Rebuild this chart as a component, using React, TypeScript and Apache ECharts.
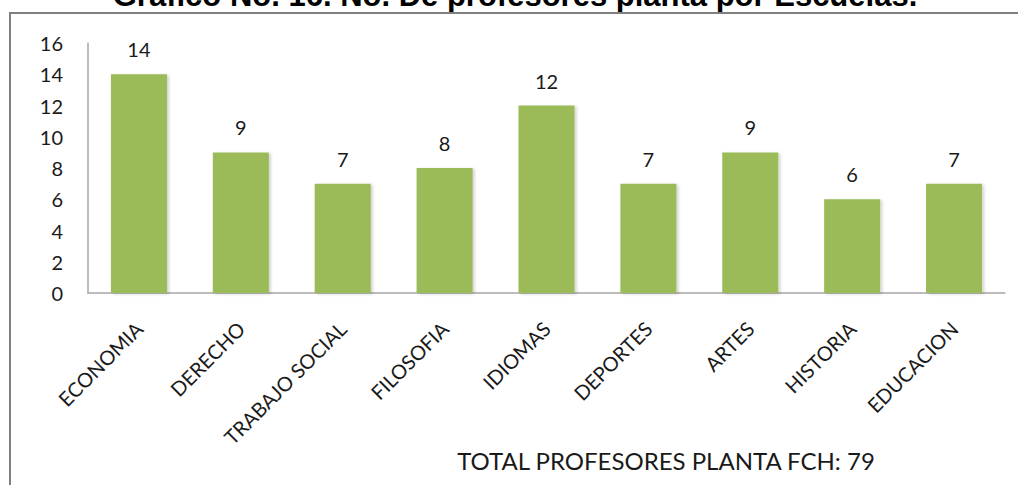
import React, { useEffect, useRef } from "react";
import * as echarts from "echarts";

const categories = ["ECONOMIA", "DERECHO", "TRABAJO SOCIAL", "FILOSOFIA", "IDIOMAS", "DEPORTES", "ARTES", "HISTORIA", "EDUCACION"];
const profesores = [14, 9, 7, 8, 12, 7, 9, 6, 7];
const titleText = "Grafico No. 16. No. De profesores planta por Escuelas.";
const totalText = "TOTAL PROFESORES PLANTA FCH: 79";

const FONT = "Lato, 'Open Sans', sans-serif";

export default function App() {
  const ref = useRef<HTMLDivElement>(null);
  useEffect(() => {
    if (!ref.current) return;
    const chart = echarts.init(ref.current, undefined, { renderer: "svg" });
    chart.setOption({
      animation: false,
      backgroundColor: "#ffffff",
      grid: { left: 88, right: 13, top: 43, bottom: 192, containLabel: false },
      xAxis: {
        type: "category",
        data: categories,
        axisLine: { show: true, lineStyle: { color: "#a6a6a6", width: 1.5 } },
        axisTick: { show: false },
        axisLabel: { rotate: 45, fontSize: 20, color: "#1a1a1a", fontFamily: FONT, margin: 32, interval: 0 },
      },
      yAxis: {
        type: "value",
        min: 0,
        max: 16,
        interval: 2,
        axisLine: { show: true, lineStyle: { color: "#a6a6a6", width: 1.5 } },
        axisTick: { show: false },
        splitLine: { show: false },
        axisLabel: { fontSize: 20, color: "#1a1a1a", fontFamily: FONT, margin: 25 },
      },
      series: [
        {
          type: "bar",
          data: profesores,
          barWidth: "55%",
          itemStyle: {
            color: "#9bbb59",
            shadowColor: "rgba(0,0,0,0.18)",
            shadowBlur: 3,
            shadowOffsetX: 2,
            shadowOffsetY: 1,
          },
          label: { show: true, position: "top", distance: 15, fontSize: 20, color: "#1a1a1a", fontFamily: FONT },
        },
      ],
      graphic: [
        {
          type: "text",
          z: -20,
          x: 515,
          y: 11,
          style: {
            text: titleText,
            font: "bold 31px Arial, 'Liberation Sans', sans-serif",
            fill: "#000000",
            textAlign: "center",
            textVerticalAlign: "bottom",
          } as any,
        },
        {
          type: "rect",
          z: -10,
          shape: { x: 10, y: 13, width: 1030, height: 500 },
          style: { fill: "#ffffff", stroke: "#7f7f7f", lineWidth: 2 },
        },
        {
          type: "text",
          x: 666,
          y: 460,
          style: {
            text: totalText,
            font: `24px ${FONT}`,
            fill: "#1a1a1a",
            textAlign: "center",
            textVerticalAlign: "middle",
          } as any,
        },
      ],
    });
    return () => chart.dispose();
  }, []);
  return <div ref={ref} style={{ position: "fixed", left: 0, top: 0, width: 1018, height: 485 }} />;
}
